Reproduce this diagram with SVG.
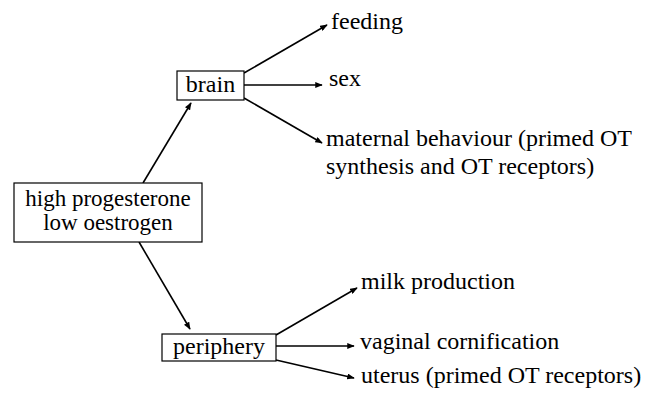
<svg xmlns="http://www.w3.org/2000/svg" width="651" height="414" viewBox="0 0 651 414">
<style>
text{font-family:'Liberation Serif',Tinos,'Times New Roman',Times,'Nimbus Roman','DejaVu Serif',serif;font-size:24px;fill:#000}
.box{fill:#fff;stroke:#000;stroke-width:1.2}
.c{text-anchor:middle}
.m{font-size:23px}
#connectors line{stroke:#000;stroke-width:1.6;marker-end:url(#ah)}
</style>
<defs>
<marker id="ah" viewBox="0 0 10 8" refX="9" refY="4" markerWidth="8" markerHeight="6" markerUnits="userSpaceOnUse" orient="auto">
<path d="M0,0 L10,4 L0,8 Z" fill="#000"/>
</marker>
</defs>
<g id="connectors">
<line x1="143" y1="183" x2="191" y2="103"/>
<line x1="139" y1="242" x2="190" y2="329"/>
<line x1="244" y1="73" x2="327" y2="25"/>
<line x1="244" y1="85" x2="322" y2="85"/>
<line x1="244" y1="98" x2="322" y2="143"/>
<line x1="276" y1="335" x2="357" y2="288"/>
<line x1="276" y1="346" x2="354" y2="346"/>
<line x1="276" y1="360" x2="354" y2="378"/>
</g>
<g id="main">
<rect class="box" x="14" y="183" width="188" height="59"/>
<text class="c m" x="108" y="206">high progesterone</text>
<text class="c m" x="108" y="230">low oestrogen</text>
</g>
<g id="brain">
<rect class="box" x="177" y="71" width="67" height="29"/>
<text class="c" x="210.5" y="92">brain</text>
</g>
<g id="periphery">
<rect class="box" x="162" y="334" width="114" height="27"/>
<text class="c" x="219" y="354">periphery</text>
</g>
<g id="feeding"><text x="331" y="29">feeding</text></g>
<g id="sex"><text x="329" y="86">sex</text></g>
<g id="maternal"><text x="326" y="146">maternal behaviour (primed OT</text><text x="326" y="174">synthesis and OT receptors)</text></g>
<g id="milk"><text x="361" y="289">milk production</text></g>
<g id="vaginal"><text x="360" y="349">vaginal cornification</text></g>
<g id="uterus"><text x="361" y="383">uterus (primed OT receptors)</text></g>
</svg>
